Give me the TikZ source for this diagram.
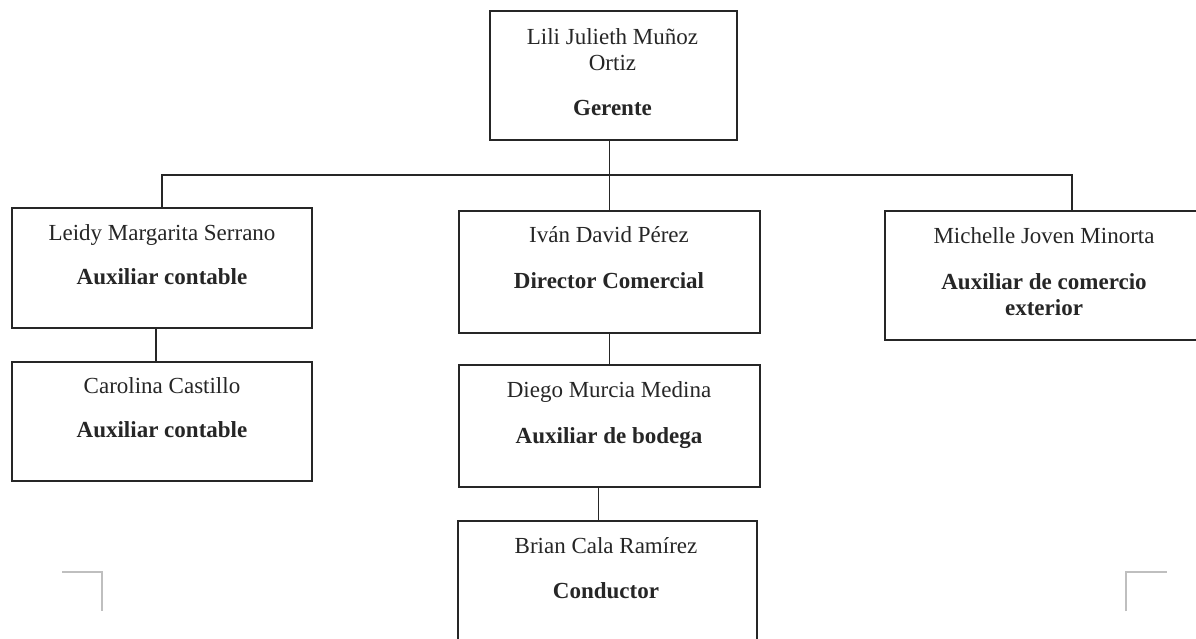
\documentclass[tikz,border=0pt]{standalone}
\usepackage{fontspec}
\setmainfont{Liberation Serif}
\begin{document}
\begin{tikzpicture}[x=1pt,y=-1pt,
  box/.style={draw=black!85, line width=1.4pt, inner sep=0pt, outer sep=0pt, fill=none},
  conn/.style={draw=black!85, line width=1.5pt},
  lbl/.style={anchor=base, inner sep=0pt, font=\fontsize{23}{27}\selectfont, text=black!85},
  role/.style={lbl, font=\fontsize{23}{27}\selectfont\bfseries},
  cornermark/.style={draw=black!25, line width=1.5pt}]
\useasboundingbox (0,0) rectangle (1196,639);
\clip (0,0) rectangle (1196,639);
\fill[white] (0,0) rectangle (1196,639);
% boxes
\node[box, minimum width=247, minimum height=129] (lili) at (613.5,75.5) {};
\node[box, minimum width=300, minimum height=120] (leidy) at (162,268) {};
\node[box, minimum width=300, minimum height=119] (carolina) at (162,421.5) {};
\node[box, minimum width=301, minimum height=122] (ivan) at (609.5,272) {};
\node[box, minimum width=301, minimum height=122] (diego) at (609.5,426) {};
\node[box, minimum width=299, minimum height=139] (brian) at (607.5,590.5) {};
\node[box, minimum width=318, minimum height=129] (michelle) at (1044,275.5) {};
% texts
\node[lbl] (t1a) at (612.5,45) {Lili Julieth Muñoz};
\node[lbl] (t1b) at (612.5,71) {Ortiz};
\node[role] (t1c) at (612.5,116) {Gerente};
\node[lbl] (t2a) at (162,240.3) {Leidy Margarita Serrano};
\node[role] (t2b) at (162,284.7) {Auxiliar contable};
\node[lbl] (t3a) at (162,393) {Carolina Castillo};
\node[role] (t3b) at (162,437) {Auxiliar contable};
\node[lbl] (t4a) at (609,242.3) {Iván David Pérez};
\node[role] (t4b) at (609,288) {Director Comercial};
\node[lbl] (t5a) at (609,397) {Diego Murcia Medina};
\node[role] (t5b) at (609,443) {Auxiliar de bodega};
\node[lbl] (t6a) at (606,553) {Brian Cala Ramírez};
\node[role] (t6b) at (606,598) {Conductor};
\node[lbl] (t7a) at (1044,243.7) {Michelle Joven Minorta};
\node[role] (t7b) at (1044,289) {Auxiliar de comercio};
\node[role] (t7c) at (1044,315.7) {exterior};
% connectors
\coordinate (busR) at (1072,175);
\draw[conn] (ivan.north |- lili.south) -- (ivan.north);
\draw[conn] (leidy.north) |- (busR) -- (busR |- michelle.north);
\draw[conn] ([xshift=-6]leidy.south) -- ([xshift=-6]carolina.north);
\draw[conn] (ivan.south) -- (diego.north);
\draw[conn] ([xshift=-11]diego.south) -- ([xshift=-11]diego.south |- brian.north);
% page corner marks
\draw[cornermark] (62,572) -- (102,572) -- (102,611);
\draw[cornermark] (1126,611) -- (1126,572) -- (1167,572);
\end{tikzpicture}
\end{document}
